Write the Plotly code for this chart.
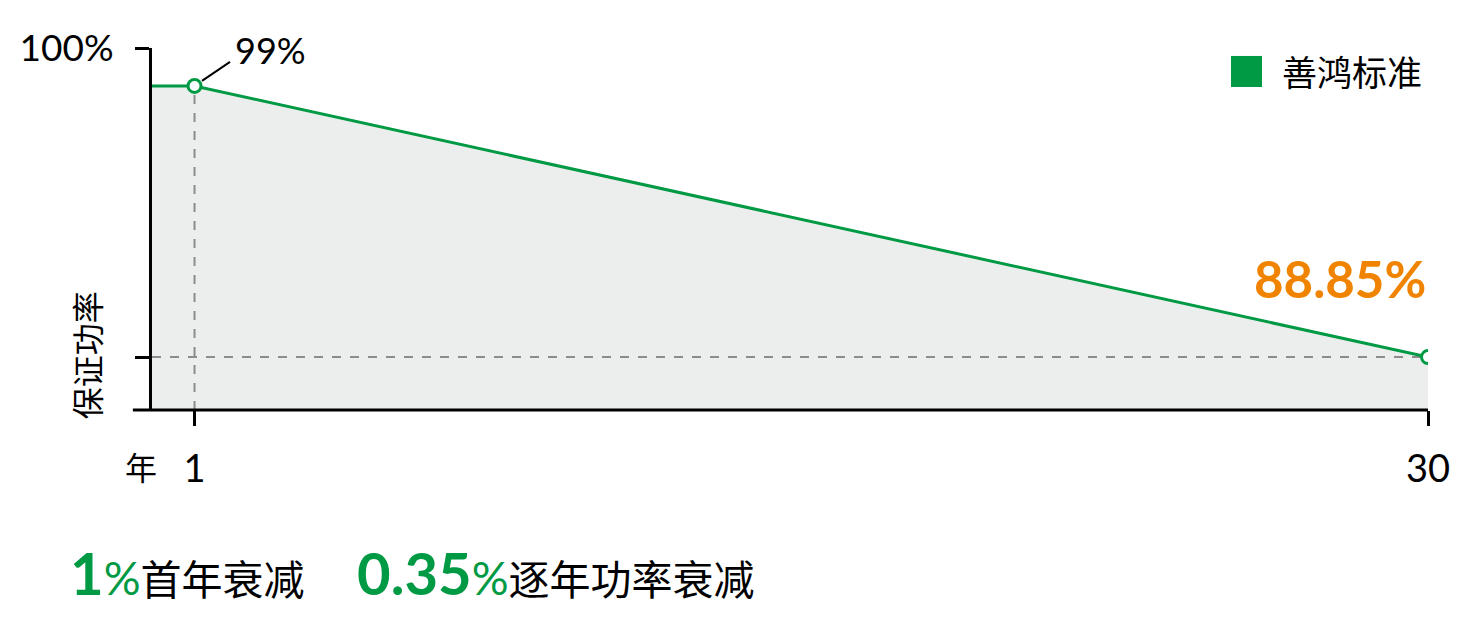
import plotly.graph_objects as go

# data
years = [0, 1, 30]
power = [99, 99, 88.85]
point_years = [1, 30]
point_power = [99, 88.85]
first_year_loss = 1
annual_loss = 0.35
series_name = '善鸿标准'
y_title = '保证功率'
x_unit = '年'
y_ticks = [100.42, 88.85]
y_ticktext = ['100%', '']
x_ticks = [1, 30]
x_ticktext = ['1', '30']

GREEN = '#009944'
ORANGE = '#F08300'
FILL = '#ECEEED'
GREY = '#8C8C8C'
FONT = 'Lato, "Noto Sans CJK SC"'

y_range = [86.87, 100.42]

fig = go.Figure()

# grey area under the curve
fig.add_trace(go.Scatter(
    x=years, y=power, mode='lines', line=dict(width=0),
    fill='tozeroy', fillcolor=FILL, hoverinfo='skip', showlegend=False))

# dashed guides
fig.add_trace(go.Scatter(
    x=[point_years[0], point_years[0]], y=[y_range[0], point_power[0]],
    mode='lines', line=dict(color=GREY, width=2, dash='dash'),
    hoverinfo='skip', showlegend=False))
fig.add_trace(go.Scatter(
    x=[years[0], point_years[-1]], y=[point_power[-1], point_power[-1]],
    mode='lines', line=dict(color=GREY, width=2, dash='dash'),
    hoverinfo='skip', showlegend=False))

# main line
fig.add_trace(go.Scatter(
    x=years, y=power, mode='lines', name=series_name,
    line=dict(color=GREEN, width=3), showlegend=False))
fig.add_trace(go.Scatter(
    x=point_years, y=point_power, mode='markers',
    marker=dict(size=13, color='white', line=dict(color=GREEN, width=3)),
    showlegend=False))

# 99% label with leader line
fig.add_annotation(x=point_years[0], y=point_power[0], text='', showarrow=True,
                   arrowhead=0, arrowwidth=2, arrowcolor='black',
                   ax=37, ay=-25, standoff=9)
fig.add_annotation(x=point_years[0], y=point_power[0], text=f'{point_power[0]:g}%',
                   showarrow=False, xanchor='left', yanchor='middle',
                   xshift=38, yshift=36, font=dict(size=36, color='black'))

# end value
fig.add_annotation(x=point_years[-1], y=point_power[-1], text=f'<b>{point_power[-1]:.2f}%</b>',
                   showarrow=False, xanchor='right', yanchor='middle',
                   xshift=0, yshift=79, font=dict(size=51, color=ORANGE))

# year unit next to tick "1"
fig.add_annotation(x=point_years[0], y=0, xref='x', yref='paper', text=x_unit,
                   showarrow=False, xanchor='center', yanchor='top',
                   xshift=-54, yshift=-36, font=dict(size=32, color='black'))

# y title
fig.add_annotation(x=-0.05, y=0.152, xref='paper', yref='paper', text=y_title,
                   textangle=-90, showarrow=False, xanchor='center', yanchor='middle',
                   font=dict(size=32, color='black'))

# legend
fig.add_shape(type='rect', xref='paper', yref='paper', x0=0.8456, x1=0.8699,
              y0=0.8923, y1=0.978, fillcolor=GREEN, line=dict(width=0))
fig.add_annotation(x=0.884, y=0.935, xref='paper', yref='paper', text=series_name,
                   showarrow=False, xanchor='left', yanchor='middle',
                   font=dict(size=35, color='black'))

# x axis line, slightly extended to the left
fig.add_shape(type='line', xref='paper', yref='paper', x0=-0.015, x1=1, y0=0, y1=0,
              line=dict(color='black', width=3))

# bottom notes
fig.add_annotation(
    x=-0.066, y=-0.45, xref='paper', yref='paper', showarrow=False,
    xanchor='left', yanchor='middle',
    text=(f"<span style='font-size:58px;color:{GREEN}'><b>{first_year_loss}</b></span>"
          f"<span style='font-size:46px;color:{GREEN}'>%</span>首年衰减"),
    font=dict(size=41, color='black'))
fig.add_annotation(
    x=0.159, y=-0.45, xref='paper', yref='paper', showarrow=False,
    xanchor='left', yanchor='middle',
    text=(f"<span style='font-size:58px;color:{GREEN}'><b>{annual_loss}</b></span>"
          f"<span style='font-size:46px;color:{GREEN}'>%</span>逐年功率衰减"),
    font=dict(size=41, color='black'))

# page body adds an 8px offset, so the figure is 8px smaller on each side
fig.update_layout(
    width=1464, height=626,
    margin=dict(l=144, r=44, t=40, b=224),
    plot_bgcolor='white', paper_bgcolor='white',
    font=dict(family=FONT, size=36, color='black'),
    showlegend=False,
)
fig.update_xaxes(
    range=[years[0], point_years[-1]], showgrid=False, zeroline=False,
    showline=False, tickvals=x_ticks, ticktext=x_ticktext,
    ticks='outside', ticklen=15, tickwidth=3, tickcolor='black',
    ticklabelstandoff=10, tickfont=dict(size=38))
fig.update_yaxes(
    range=y_range, showgrid=False, zeroline=False,
    showline=True, linewidth=3, linecolor='black',
    tickvals=y_ticks, ticktext=y_ticktext,
    ticks='outside', ticklen=14, tickwidth=3, tickcolor='black',
    ticklabelstandoff=14, tickfont=dict(size=37))

fig.write_html("out.html")
